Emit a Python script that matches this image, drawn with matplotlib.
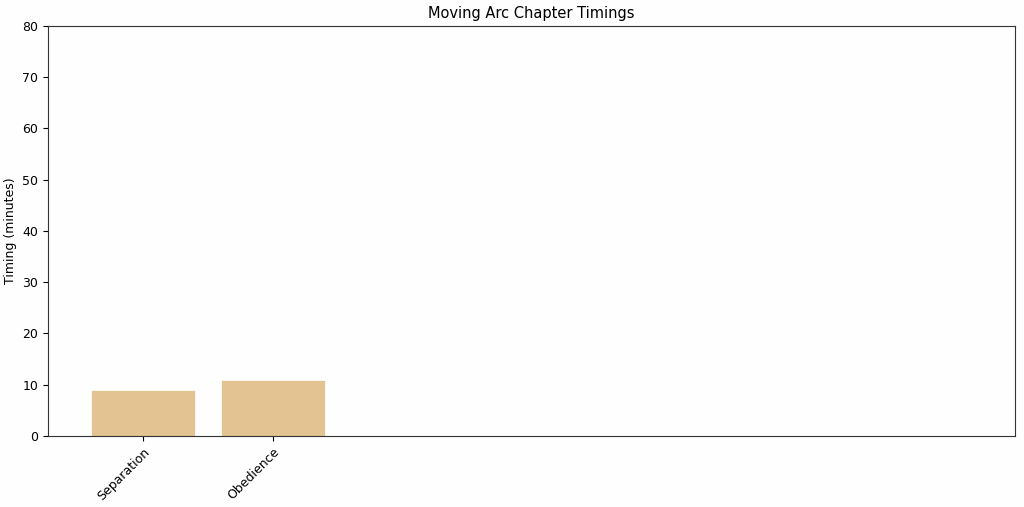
import matplotlib
matplotlib.use("Agg")
import matplotlib.pyplot as plt
import numpy as np

chapters = ["Separation", "Obedience"]
timings = [9.0, 11.0]

fig, ax = plt.subplots(figsize=(10.24, 5.07), dpi=100)
fig.patch.set_facecolor("#fefefe")
ax.set_facecolor("#fefefe")
fig.subplots_adjust(left=0.047, right=0.991, top=0.949, bottom=0.14)

x = np.arange(len(chapters))
ax.bar(x, timings, width=0.8, color="#e2c391", edgecolor="white", linewidth=0.5)

ax.set_xticks(x)
ax.set_xticklabels(chapters, rotation=45, ha="right", rotation_mode="anchor", fontsize=9)
ax.tick_params(axis="y", labelsize=9)
ax.set_xlim(-0.73, 6.71)
ax.set_ylim(0, 80)
ax.set_ylabel("Timing (minutes)", fontsize=9)
ax.set_title("Moving Arc Chapter Timings", fontsize=10.5)

for s in ax.spines.values():
    s.set_color("#333333")

fig.savefig("out.png", dpi=100, facecolor=fig.get_facecolor())
